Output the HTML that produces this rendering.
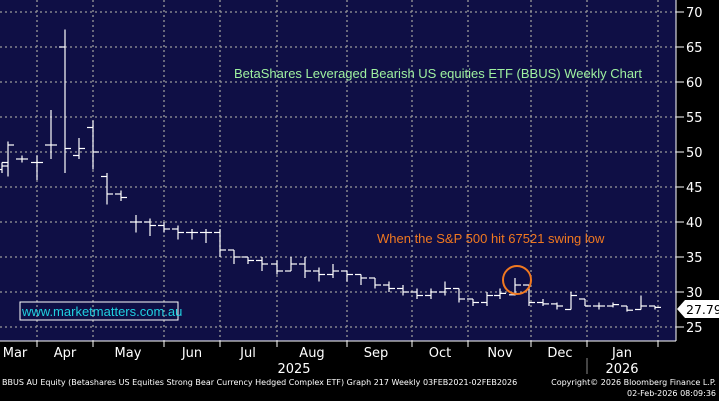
<!DOCTYPE html><html><head><style>
html,body{margin:0;padding:0}
body{background:#000;width:719px;height:401px;overflow:hidden;font-family:"DejaVu Sans","Liberation Sans",sans-serif}
svg{display:block}
</style></head><body>
<svg width="719" height="401" xmlns="http://www.w3.org/2000/svg" id="s">
<rect x="0" y="0" width="676" height="341" fill="#0f0f45"/>
<g id="grid" stroke="#9a9a9a" stroke-width="1.3" stroke-dasharray="2,3"></g>
<line x1="676" y1="0" x2="676" y2="341" stroke="#fff"/>
<line x1="0" y1="341" x2="676" y2="341" stroke="#fff"/>
<g id="bars" stroke="#fff" stroke-width="1.2" fill="none"></g>
<g id="ax" fill="#fff" font-size="13"></g>
<text x="234" y="78" fill="#9ef0a0" font-size="13" font-family="Liberation Sans,sans-serif">BetaShares Leveraged Bearish US equities ETF (BBUS) Weekly Chart</text>
<text x="377" y="243" fill="#f07820" font-size="13" font-family="Liberation Sans,sans-serif">When the S&amp;P 500 hit 67521 swing low</text>
<circle cx="517" cy="280" r="14" fill="none" stroke="#f07820" stroke-width="2"/>
<rect x="20" y="302" width="158" height="18" fill="none" stroke="#fff"/>
<text x="22" y="316" fill="#20d0e0" font-size="13" font-family="Liberation Sans,sans-serif">www.marketmatters.com.au</text>
<polygon points="677,309 685,300 719,300 719,318 685,318" fill="#fff"/>
<text x="686" y="314" fill="#000" font-size="12.5">27.79</text>
<text x="2" y="385" fill="#fff" font-size="8">BBUS AU Equity (Betashares US Equities Strong Bear Currency Hedged Complex ETF) Graph 217 Weekly 03FEB2021-02FEB2026</text>
<text x="716" y="385" fill="#fff" font-size="8" text-anchor="end">Copyright© 2026 Bloomberg Finance L.P.</text>
<text x="716" y="396" fill="#fff" font-size="8" text-anchor="end">02-Feb-2026 08:09:36</text>
</svg>
<script>
const ns="http://www.w3.org/2000/svg";
function el(p,t,a,txt){const e=document.createElementNS(ns,t);for(const k in a)e.setAttribute(k,a[k]);if(txt)e.textContent=txt;document.getElementById(p).appendChild(e);return e;}
const Y=v=>12+(70-v)*7;
[70,65,60,55,50,45,40,35,30,25].forEach(v=>{el('grid','line',{x1:0,x2:676,y1:Y(v),y2:Y(v)});el('ax','line',{x1:676,x2:684,y1:Y(v),y2:Y(v),stroke:'#fff'});el('ax','text',{x:686,y:Y(v)+5},String(v));});
[37,93,164,220,277,347,412,468,531,587,658].forEach(x=>{el('grid','line',{x1:x,x2:x,y1:0,y2:341});el('ax','line',{x1:x,x2:x,y1:341,y2:347,stroke:'#fff'});});
[["Mar",15],["Apr",65],["May",128],["Jun",192],["Jul",248],["Aug",312],["Sep",376],["Oct",440],["Nov",500],["Dec",560],["Jan",622]].forEach(([t,x])=>el('ax','text',{x:x,y:357,'text-anchor':'middle'},t));
el('ax','text',{x:294,y:373,'text-anchor':'middle'},"2025");
el('ax','text',{x:622,y:373,'text-anchor':'middle'},"2026");
el('ax','line',{x1:587,x2:587,y1:358,y2:374,stroke:'#888'});
const d=[[2,47.5,48.5,47,48],[8,48.5,51.5,46.5,51],[22,49,49.5,48.5,49],[37,48.5,49.5,46,48.5],[51,51,56,49,51],[65,65,67.5,47,50.5],[79,49.5,52,49,50.5],[93,53.5,54.5,47.5,50],[107,46.5,47,42.5,44],[121,44,44.5,43,43.5],[136,40,41,38.5,40],[150,40,40.5,38,39.5],[164,39.5,40,38.5,39],[178,39,39.5,37.5,38.5],[192,38.5,39,37.5,38.5],[206,38.5,39,37,38.5],[220,38.5,39,35,36],[234,36,36,34,35],[248,35,35,34,34.5],[262,34.5,35,33,34],[277,34,34.5,32.5,33],[291,33,35,33,34],[305,34,35,32,33],[319,33,33.5,31.5,32.5],[333,32.5,34,32,33],[347,33,33,31.5,32.5],[361,32.5,32.5,31,32],[375,32,32,30.5,31],[389,31,31.5,30,30.5],[403,30.5,31,29.5,30],[417,30,30.5,29,29.5],[431,29.5,30.5,29,30],[445,30,31.5,29.5,30.5],[459,30.5,30.5,28.5,29],[473,29,29,28,28.5],[487,28.5,30,28,29.5],[500,29.5,30.5,29,29.8],[515,29.6,32,29.5,31],[529,31,31,28,28.5],[543,28.5,29,28,28.3],[557,28.3,28.5,27.5,28],[571,27.5,30,27.5,29.5],[585,29,29,28,28],[599,28,28.5,27.5,28],[613,28,28.5,27.8,28.2],[627,28,28,27.2,27.4],[641,27.5,29.5,27.5,28],[655,28,28,27.5,27.8]];
d.forEach(([x,o,h,l,c])=>{el('bars','line',{x1:x,x2:x,y1:Y(h),y2:Y(l)});el('bars','line',{x1:x-6,x2:x,y1:Y(o),y2:Y(o)});el('bars','line',{x1:x,x2:x+6,y1:Y(c),y2:Y(c)});});
</script>
</body></html>
